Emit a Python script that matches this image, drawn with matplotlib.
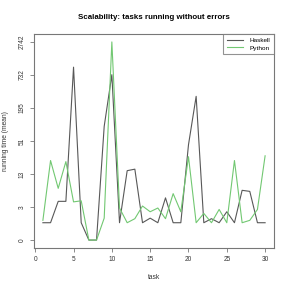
import numpy as np
import matplotlib
matplotlib.use("Agg")
import matplotlib.pyplot as plt

tasks = list(range(1, 31))
haskell = [1, 1, 3.7, 3.7, 1000, 1, 0, 0, 93, 740, 1, 15, 16, 1, 1.4, 1, 4.4, 1, 1, 44,
           311, 1, 1.35, 1, 2.1, 1, 6.3, 6.0, 1, 1]
python = [1.2, 23, 6.9, 22, 3.6, 3.8, 0, 0, 1.4, 2742, 2.6, 1, 1.35, 2.9, 2.1, 2.6, 1.35, 5.4,
          2.1, 27, 1, 1.9, 1, 2.4, 1, 23, 1, 1.2, 2.4, 28]
series_names = ["Haskell", "Python"]
x_ticks = [0, 5, 10, 15, 20, 25, 30]

plt.rcParams['font.family'] = ['Liberation Sans', 'DejaVu Sans']

W = H = 291
fig = plt.figure(figsize=(W / 100, H / 100), dpi=100)
L, R, T, B = 34, 274, 34, 248
ax = fig.add_axes([L / W, 1 - B / H, (R - L) / W, (B - T) / H])

hs = np.log1p(haskell)
ps = np.log1p(python)
ymax = max(hs.max(), ps.max())

c_h = '#585858'
c_p = '#72c872'
ax.plot(tasks, hs, color=c_h, lw=0.8, label=series_names[0])
ax.plot(tasks, ps, color=c_p, lw=0.8, label=series_names[1])

xr = tasks[-1] - tasks[0]
ax.set_xlim(tasks[0] - 0.04 * xr, tasks[-1] + 0.04 * xr)
ax.set_ylim(-0.04 * ymax, ymax * 1.04)

yt = np.linspace(0, ymax, 7)
ax.set_yticks(yt)
ax.set_yticklabels([str(int(round(np.expm1(v)))) for v in yt], rotation=90, va='center')
ax.set_xticks(x_ticks)
ax.set_xticklabels([str(v) for v in x_ticks])

for s in ax.spines.values():
    s.set_color('#777777')
    s.set_linewidth(0.8)
ax.tick_params(labelsize=4.7, length=3, width=0.6, colors='#777777', labelcolor='#333333', pad=3)

ax.set_title('Scalability: tasks running without errors', fontsize=5.7, fontweight='bold', pad=11)
ax.set_xlabel('task', fontsize=4.8, labelpad=8, color='#333333')
ax.set_ylabel('running time (mean)', fontsize=4.8, labelpad=7, color='#333333')

leg = ax.legend(loc='upper right', fontsize=4.6, frameon=True, fancybox=False,
                borderaxespad=0, handlelength=2.6, borderpad=0.55, labelspacing=0.35,
                handletextpad=1.0)
leg.get_frame().set_edgecolor('#777777')
leg.get_frame().set_linewidth(0.8)

fig.savefig('out.png', dpi=100)
